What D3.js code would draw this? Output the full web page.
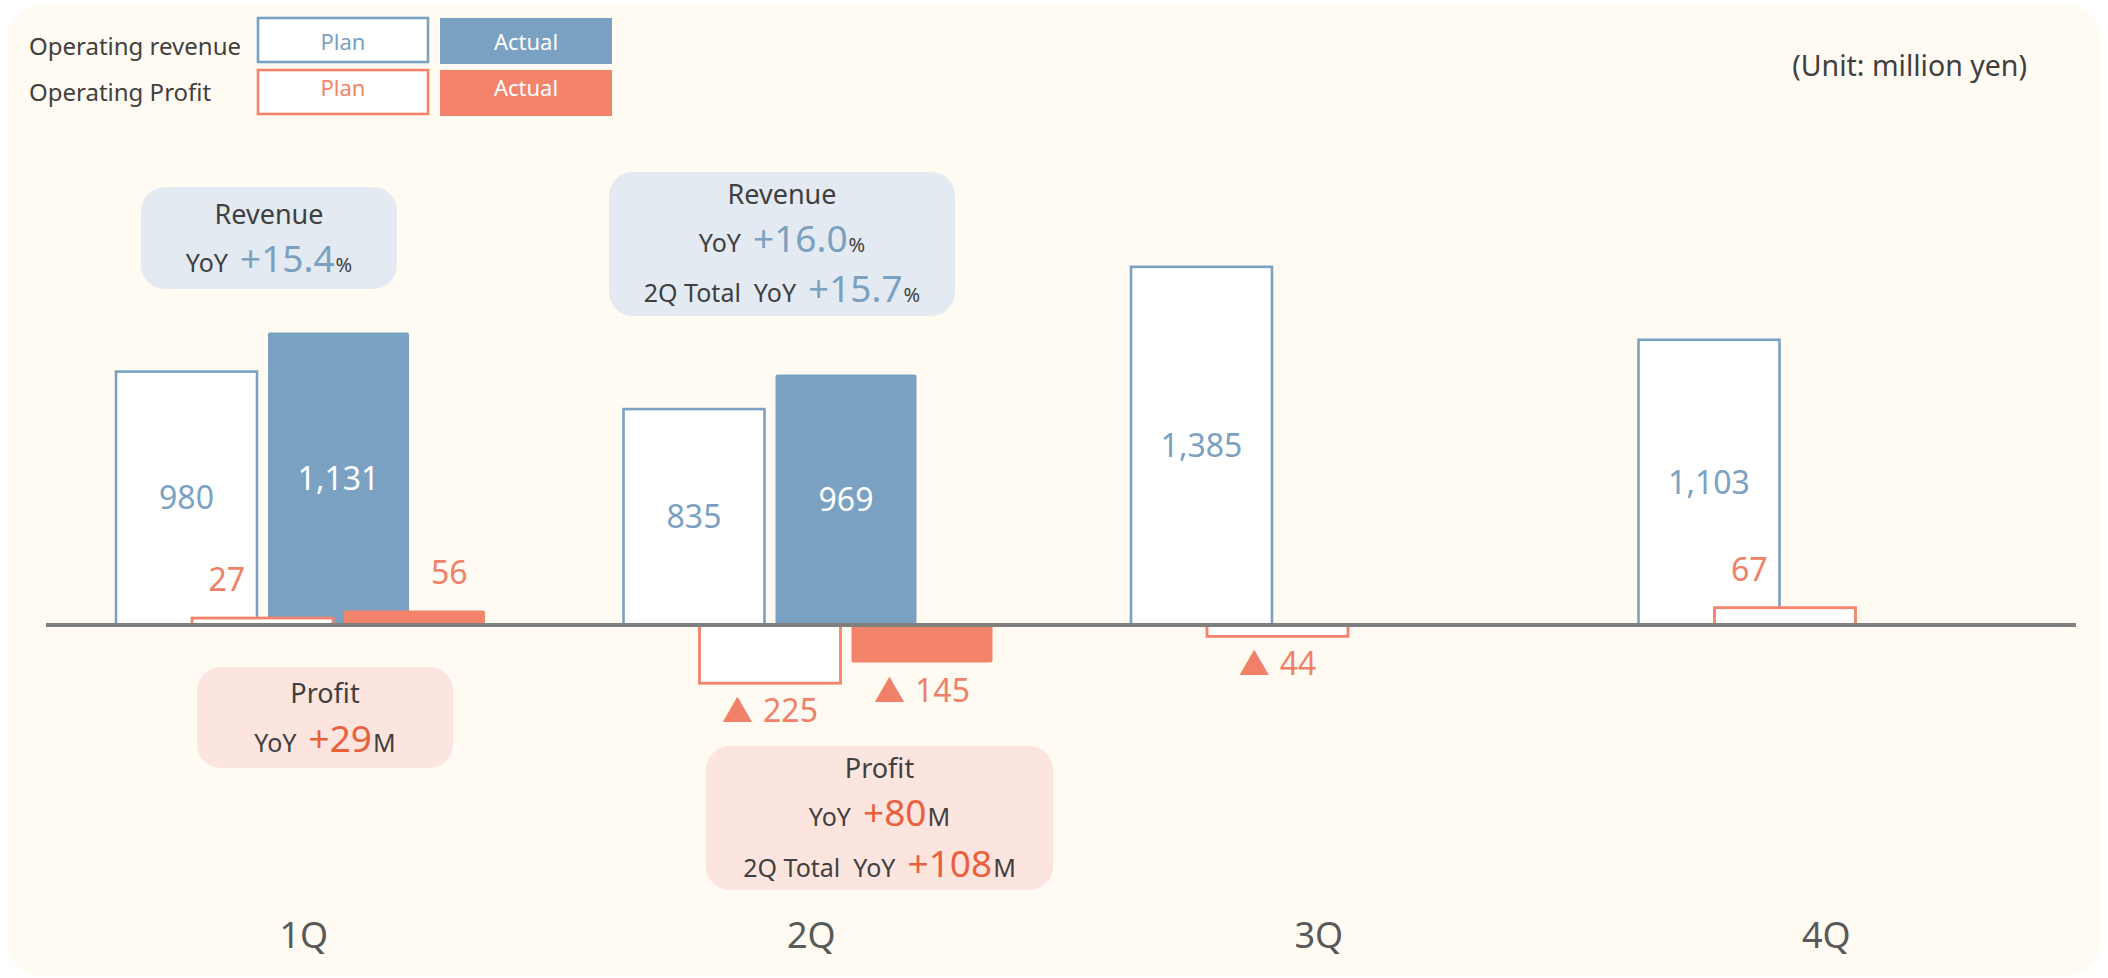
<!DOCTYPE html>
<html>
<head>
<meta charset="utf-8">
<script src="https://cdn.jsdelivr.net/npm/d3@7"></script>
<style>
  html, body { margin: 0; padding: 0; background: #ffffff; }
  svg { display: block; }
  text { font-family: "Noto Sans", "Open Sans", sans-serif; }
</style>
</head>
<body>
<svg id="chart" width="2108" height="978"></svg>
<script>
// Quarterly operating revenue / operating profit (million yen)
const quarters = ["1Q", "2Q", "3Q", "4Q"];
const revenuePlan = [980, 835, 1385, 1103];
const revenueActual = [1131, 969, null, null];
const profitPlan = [27, -225, -44, 67];
const profitActual = [56, -145, null, null];

// Legend rows and labels
const legendRows = ["Operating revenue", "Operating Profit"];
const legendKeys = ["Plan", "Actual"];

// YoY callouts
const revenueYoY = ["+15.4", "+16.0"];
const revenueTotalYoY = "+15.7";
const profitYoY = ["+29", "+80"];
const profitTotalYoY = "+108";

const C = {
  bg: "#fffbf2",
  blue: "#7ba1c2",
  salmon: "#f4836b",
  salmonText: "#f08068",
  red: "#ea5f3c",
  dark: "#404040",
  axis: "#7f7f7f",
  revBox: "#e3eaf1",
  profBox: "#fce4df"
};

const svg = d3.select("#chart");

// Panel background
svg.append("rect")
  .attr("x", 7).attr("y", 5).attr("width", 2094).attr("height", 971)
  .attr("rx", 34).attr("fill", C.bg);

// Scales
const x = d3.scaleBand().domain(quarters).range([46, 2076]);
const slot = d3.scalePoint()
  .domain(["revPlan", "profPlan", "revActual", "profActual"])
  .range([70, 298]);
const barW = 141;
const y = d3.scaleLinear().domain([-300, 1500]).range([702.6, 237.1]);
const y0 = y(0);

const fmt = d3.format(",");

function bars(values, key, opts) {
  const data = values.map((v, i) => ({ q: quarters[i], v })).filter(d => d.v !== null);
  const g = svg.append("g");
  g.selectAll("rect").data(data).join("rect")
    .attr("x", d => x(d.q) + slot(key))
    .attr("width", barW)
    .attr("y", d => Math.min(y(d.v), y0))
    .attr("height", d => Math.abs(y(d.v) - y0))
    .attr("rx", opts.rx || 0)
    .attr("fill", opts.fill)
    .attr("stroke", opts.stroke || "none")
    .attr("stroke-width", opts.strokeWidth || 0);
  return data;
}

const rpData = bars(revenuePlan, "revPlan", { fill: "#ffffff", stroke: C.blue, strokeWidth: 2.6 });
const raData = bars(revenueActual, "revActual", { fill: C.blue, rx: 2 });
const ppData = bars(profitPlan, "profPlan", { fill: "#ffffff", stroke: C.salmon, strokeWidth: 2.8 });
const paData = bars(profitActual, "profActual", { fill: C.salmon, rx: 2 });

// Zero line
svg.append("line")
  .attr("x1", x.range()[0]).attr("x2", x.range()[1])
  .attr("y1", y0).attr("y2", y0)
  .attr("stroke", C.axis).attr("stroke-width", 4);

// Revenue value labels, centred in each bar
function revLabels(data, key, color) {
  svg.append("g").selectAll("text").data(data).join("text")
    .attr("x", d => x(d.q) + slot(key) + barW / 2)
    .attr("y", d => (y(d.v) + y0) / 2)
    .attr("dy", "0.35em")
    .attr("text-anchor", "middle")
    .attr("font-size", 32)
    .attr("fill", color)
    .text(d => fmt(d.v));
}
revLabels(rpData, "revPlan", C.blue);
revLabels(raData, "revActual", "#ffffff");

// Profit value labels: losses below the bar with a triangle mark, gains above
function profitLabels(data, key) {
  const g = svg.append("g");
  const t = g.selectAll("text").data(data).join("text")
    .attr("x", d => {
      if (d.v < 0) return x(d.q) + slot(key) + barW / 2;
      if (key === "profPlan") return x(d.q) + slot("revPlan") + barW - 12;
      return x(d.q) + slot("revActual") + barW + 22;
    })
    .attr("y", d => d.v < 0 ? y(d.v) + 39 : y(d.v) - 27)
    .attr("text-anchor", d => d.v < 0 ? "middle" : (key === "profPlan" ? "end" : "start"))
    .attr("font-size", 32)
    .attr("fill", C.salmonText);
  t.each(function (d) {
    const el = d3.select(this);
    if (d.v < 0) {
      el.append("tspan")
        .attr("font-family", "'Noto Sans CJK JP', sans-serif")
        .attr("font-size", 31)
        .text("▲");
      el.append("tspan").attr("dx", 10).text(fmt(-d.v));
    } else {
      el.text(fmt(d.v));
    }
  });
}
profitLabels(ppData, "profPlan");
profitLabels(paData, "profActual");

// Quarter labels
svg.append("g").selectAll("text").data(quarters).join("text")
  .attr("x", d => x(d) + x.bandwidth() / 2 + 4)
  .attr("y", 948)
  .attr("text-anchor", "middle")
  .attr("font-size", 36)
  .attr("fill", "#595959")
  .text(d => d);

// Legend
const legendY = [55, 101];
legendRows.forEach((row, r) => {
  svg.append("text")
    .attr("x", 29).attr("y", legendY[r])
    .attr("font-size", 24).attr("fill", C.dark)
    .text(row);
  const color = r === 0 ? C.blue : C.salmon;
  legendKeys.forEach((k, i) => {
    const bx = i === 0 ? 258 : 440;
    const by = r === 0 ? 18 : 70;
    const filled = i === 1;
    svg.append("rect")
      .attr("x", bx).attr("y", by).attr("width", filled ? 172 : 170).attr("height", filled ? 46 : 44)
      .attr("fill", filled ? color : "#ffffff")
      .attr("stroke", filled ? "none" : color)
      .attr("stroke-width", 2.6);
    svg.append("text")
      .attr("x", bx + (filled ? 86 : 85)).attr("y", legendY[r] - 5)
      .attr("text-anchor", "middle")
      .attr("font-size", 22)
      .attr("fill", filled ? "#ffffff" : color)
      .text(k);
  });
});

// Unit note
svg.append("text")
  .attr("x", 2027).attr("y", 76)
  .attr("text-anchor", "end")
  .attr("font-size", 28.5).attr("fill", C.dark)
  .text("(Unit: million yen)");

// Callout boxes
function callout(box, fill, title, lines) {
  const g = svg.append("g");
  g.append("rect")
    .attr("x", box.x).attr("y", box.y).attr("width", box.w).attr("height", box.h)
    .attr("rx", 24).attr("fill", fill);
  const cx = box.x + box.w / 2;
  g.append("text")
    .attr("x", cx).attr("y", title.y)
    .attr("text-anchor", "middle")
    .attr("font-size", 27).attr("fill", C.dark)
    .text(title.text);
  lines.forEach(line => {
    const t = g.append("text")
      .attr("x", cx).attr("y", line.y)
      .attr("text-anchor", "middle");
    line.parts.forEach(p => {
      const s = t.append("tspan")
        .attr("font-size", p.size)
        .attr("fill", p.color)
        .text(p.text);
      if (p.dx) s.attr("dx", p.dx);
    });
  });
}

const yoyParts = (prefix, value, unit, color) => [
  { text: prefix, size: 25, color: C.dark },
  { text: value, size: 37, color: color, dx: 12 },
  { text: unit, size: unit === "%" ? 20 : 25, color: C.dark, dx: 1 }
];

callout({ x: 141, y: 187, w: 256, h: 102 }, C.revBox,
  { text: "Revenue", y: 224 },
  [{ y: 272, parts: yoyParts("YoY", revenueYoY[0], "%", C.blue) }]);

callout({ x: 609, y: 172, w: 346, h: 144 }, C.revBox,
  { text: "Revenue", y: 204 },
  [{ y: 252, parts: yoyParts("YoY", revenueYoY[1], "%", C.blue) },
   { y: 302, parts: yoyParts("2Q Total\u00a0\u00a0YoY", revenueTotalYoY, "%", C.blue) }]);

callout({ x: 197, y: 667, w: 256, h: 101 }, C.profBox,
  { text: "Profit", y: 703 },
  [{ y: 752, parts: yoyParts("YoY", profitYoY[0], "M", C.red) }]);

callout({ x: 706, y: 746, w: 347, h: 144 }, C.profBox,
  { text: "Profit", y: 778 },
  [{ y: 826, parts: yoyParts("YoY", profitYoY[1], "M", C.red) },
   { y: 877, parts: yoyParts("2Q Total\u00a0\u00a0YoY", profitTotalYoY, "M", C.red) }]);
</script>
</body>
</html>
